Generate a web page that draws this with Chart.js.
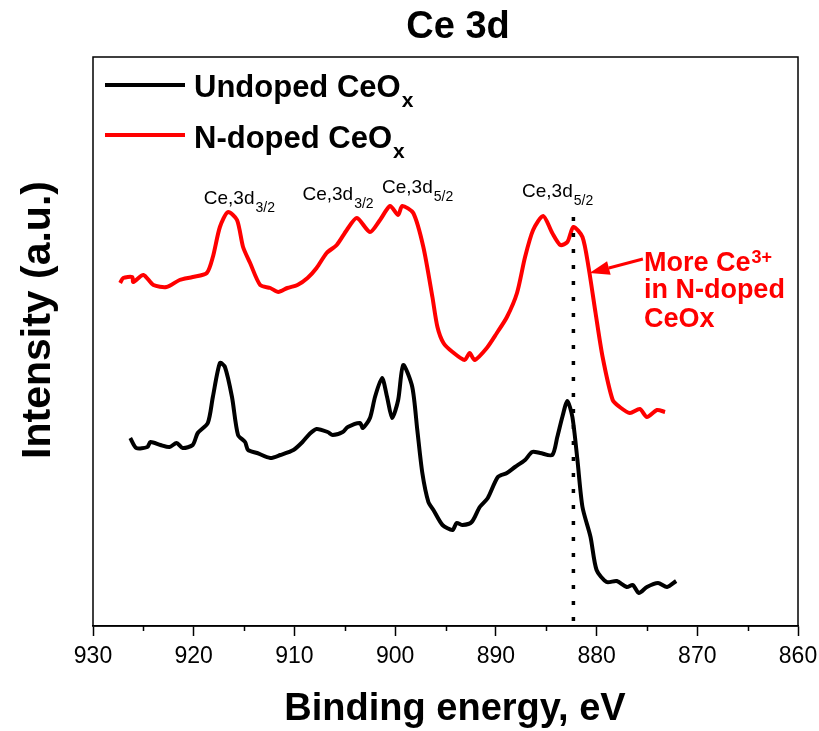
<!DOCTYPE html>
<html>
<head>
<meta charset="utf-8">
<script src="https://cdn.jsdelivr.net/npm/chart.js@4.4.0/dist/chart.umd.min.js"></script>
<style>
  html, body { margin: 0; padding: 0; background: #fff; }
  #wrap { width: 819px; height: 731px; }
</style>
</head>
<body>
<div id="wrap"><canvas id="chart" width="819" height="731"></canvas></div>
<script>
// binding energy (eV) and intensity (a.u.)
const undopedEnergy = [926.3,925.7,924.6,924.3,923.3,922.4,921.7,921.1,920.1,919.6,918.6,918.1,917.4,916.9,916.2,915.6,914.9,914.6,913.7,912.4,911.4,910.1,909.2,908.5,907.8,906.7,906.2,905.2,904.7,903.5,903.2,902.5,902.0,901.3,900.8,900.3,899.7,899.2,898.3,897.8,897.3,896.7,896.2,895.3,894.3,893.9,893.3,892.4,891.6,890.8,889.8,888.9,888.1,887.1,886.4,885.6,884.4,883.9,883.4,882.9,882.4,881.9,881.4,880.6,880.0,879.0,878.0,877.0,876.4,875.8,875.0,873.9,873.0,872.1];
const undopedIntensity = [188,178,179,184,181,179,183,178,181,193,203,229,263,259,229,191,184,176,173,168,171,176,184,192,197,194,191,194,199,203,198,208,229,248,229,208,226,261,239,196,153,124,116,101,96,103,101,104,119,128,149,153,159,166,174,173,171,189,209,225,209,166,119,89,56,44,45,39,41,33,39,43,39,45];

const ndopedEnergy = [927.3,927.0,926.1,926.0,925.0,924.0,922.7,921.4,920.1,918.7,918.1,917.4,916.6,915.7,915.1,914.4,913.4,912.4,911.6,910.7,909.7,908.7,907.8,906.8,905.8,904.8,903.8,902.5,901.5,900.5,899.7,899.3,898.2,897.2,896.3,895.8,895.2,894.3,893.1,892.6,892.1,890.9,889.9,888.9,887.9,887.1,886.3,885.3,884.4,883.6,882.9,882.3,881.4,880.8,880.1,879.4,878.4,877.7,876.7,875.7,875.0,874.0,873.2];
const ndopedIntensity = [343,348,349,344,351,341,339,346,349,353,369,399,414,406,379,363,341,338,334,338,341,348,358,373,381,396,408,394,406,420,411,420,413,379,329,299,283,274,266,273,266,278,293,309,333,369,396,410,393,381,384,399,389,359,313,269,226,219,213,217,209,216,214];

const minorTicks = [925, 915, 905, 895, 885, 875, 865];

// peak labels: text, subscript, energy of left edge, intensity of baseline
const peakText = ['Ce,3d', 'Ce,3d', 'Ce,3d', 'Ce,3d'];
const peakSub = ['3/2', '3/2', '5/2', '5/2'];
const peakE = [919.0, 909.2, 901.3, 887.4];
const peakI = [422, 426, 433, 429];

const ce3Energy = 882.3;   // dotted marker
const ce3Top = 409;

function pts(xs, ys) {
  return xs.map((x, i) => ({ x: x, y: ys[i] }));
}

function textWithScript(ctx, x, y, main, script, font, scriptFont, dy) {
  ctx.font = font;
  ctx.fillText(main, x, y);
  const w = ctx.measureText(main).width;
  ctx.font = scriptFont;
  ctx.fillText(script, x + w + 1, y + dy);
}

const extras = {
  id: 'extras',
  afterDraw(chart) {
    const ctx = chart.ctx;
    const a = chart.chartArea;
    const xs = chart.scales.x;
    const ys = chart.scales.y;
    ctx.save();

    // frame
    ctx.strokeStyle = '#000';
    ctx.lineWidth = 1.5;
    ctx.strokeRect(a.left, a.top, a.right - a.left, a.bottom - a.top);

    // minor ticks
    ctx.beginPath();
    minorTicks.forEach(v => {
      const px = Math.round(xs.getPixelForValue(v)) + 0.5;
      ctx.moveTo(px, a.bottom);
      ctx.lineTo(px, a.bottom + 5);
    });
    ctx.stroke();

    // dotted line at Ce 3d5/2
    const dx = xs.getPixelForValue(ce3Energy);
    ctx.setLineDash([4, 12]);
    ctx.lineWidth = 3.5;
    ctx.beginPath();
    ctx.moveTo(dx, ys.getPixelForValue(ce3Top));
    ctx.lineTo(dx, a.bottom);
    ctx.stroke();
    ctx.setLineDash([]);

    ctx.fillStyle = '#000';
    ctx.textAlign = 'left';
    ctx.textBaseline = 'alphabetic';

    // peak labels
    peakText.forEach((t, i) => {
      textWithScript(ctx, xs.getPixelForValue(peakE[i]), ys.getPixelForValue(peakI[i]),
        t, peakSub[i], '19px "Liberation Sans", Arial', '14px "Liberation Sans", Arial', 8);
    });

    // legend
    const leg = [['Undoped CeO', '#000', 85, 97], ['N-doped CeO', '#ff0000', 135, 148]];
    leg.forEach(l => {
      ctx.strokeStyle = l[1];
      ctx.lineWidth = 4;
      ctx.beginPath();
      ctx.moveTo(a.left + 12, l[2]);
      ctx.lineTo(a.left + 92, l[2]);
      ctx.stroke();
      ctx.fillStyle = '#000';
      textWithScript(ctx, a.left + 101, l[3], l[0], 'x',
        'bold 31px "Liberation Sans", Arial', 'bold 21px "Liberation Sans", Arial', 10);
    });

    // title
    ctx.textAlign = 'center';
    ctx.font = 'bold 38px "Liberation Sans", Arial';
    ctx.fillText('Ce 3d', 458, 38);

    // axis titles
    ctx.font = 'bold 38px "Liberation Sans", Arial';
    ctx.fillText('Binding energy, eV', 455, 720);
    ctx.save();
    ctx.translate(50, 320);
    ctx.rotate(-Math.PI / 2);
    ctx.font = 'bold 41px "Liberation Sans", Arial';
    ctx.fillText('Intensity (a.u.)', 0, 0);
    ctx.restore();

    // Ce3+ note with arrow
    ctx.fillStyle = '#ff0000';
    ctx.strokeStyle = '#ff0000';
    ctx.textAlign = 'left';
    const tx = xs.getPixelForValue(875.3);
    textWithScript(ctx, tx, ys.getPixelForValue(355), 'More Ce', '3+',
      'bold 27px "Liberation Sans", Arial', 'bold 18px "Liberation Sans", Arial', -8);
    ctx.font = 'bold 27px "Liberation Sans", Arial';
    ctx.fillText('in N-doped', tx, ys.getPixelForValue(328));
    ctx.fillText('CeOx', tx, ys.getPixelForValue(299));

    const tipX = xs.getPixelForValue(880.7), tipY = ys.getPixelForValue(353);
    const tailX = xs.getPixelForValue(875.4), tailY = ys.getPixelForValue(367);
    const ang = Math.atan2(tailY - tipY, tailX - tipX);
    const hl = 20, hw = 7;
    const bx = tipX + Math.cos(ang) * hl, by = tipY + Math.sin(ang) * hl;
    ctx.lineWidth = 3;
    ctx.beginPath();
    ctx.moveTo(tailX, tailY);
    ctx.lineTo(bx, by);
    ctx.stroke();
    ctx.beginPath();
    ctx.moveTo(tipX, tipY);
    ctx.lineTo(bx - Math.sin(ang) * hw, by + Math.cos(ang) * hw);
    ctx.lineTo(bx + Math.sin(ang) * hw, by - Math.cos(ang) * hw);
    ctx.closePath();
    ctx.fill();

    ctx.restore();
  }
};

const ctx = document.getElementById('chart').getContext('2d');
const chartInstance = new Chart(ctx, {
  type: 'line',
  data: {
    datasets: [
      {
        label: 'Undoped CeOx',
        data: pts(undopedEnergy, undopedIntensity),
        borderColor: '#000000',
        borderWidth: 4,
        pointRadius: 0,
        tension: 0.25
      },
      {
        label: 'N-doped CeOx',
        data: pts(ndopedEnergy, ndopedIntensity),
        borderColor: '#ff0000',
        borderWidth: 4,
        pointRadius: 0,
        tension: 0.25
      }
    ]
  },
  options: {
    responsive: false,
    animation: false,
    events: [],
    layout: { padding: { left: 93, right: 21, top: 57, bottom: 65 } },
    plugins: {
      legend: { display: false },
      title: { display: false },
      tooltip: { enabled: false }
    },
    scales: {
      x: {
        type: 'linear',
        reverse: true,
        min: 860,
        max: 930,
        afterFit: s => {
          s.height = 40;
          s.paddingLeft = 0;
          s.paddingRight = 0;
        },
        ticks: {
          stepSize: 10,
          color: '#000',
          padding: 7,
          maxRotation: 0,
          font: { family: '"Liberation Sans", Arial', size: 23 }
        },
        grid: {
          drawOnChartArea: false,
          color: '#000',
          tickLength: 10,
          tickWidth: 1.5
        },
        border: { color: '#000', width: 1.5 }
      },
      y: {
        display: false,
        min: 0,
        max: 569
      }
    }
  },
  plugins: [extras]
});
</script>
</body>
</html>
